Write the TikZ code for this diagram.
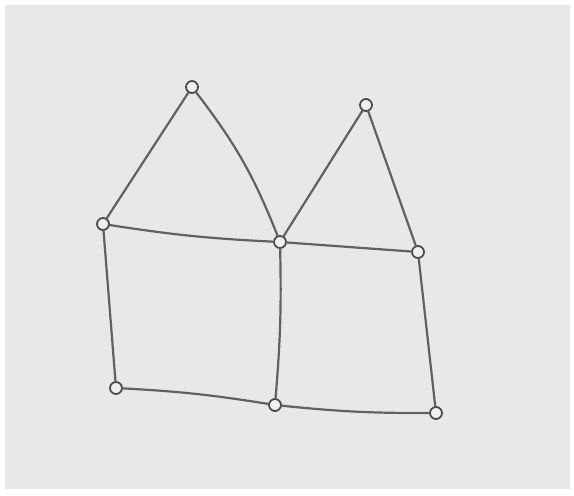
\documentclass[tikz,border=0pt]{standalone}
\begin{document}
\begin{tikzpicture}[x=1pt,y=-1pt,
  vert/.style={circle,draw=black!70,fill=black!6,line width=1.8pt,minimum size=12pt,inner sep=0pt},
  edge/.style={draw=black!62,line width=2.2pt,line cap=round}]
\useasboundingbox (0,0) rectangle (574,496);
\fill[white] (0,0) rectangle (574,496);
\fill[black!9] (5,5) rectangle (570,489);
\node[vert] (A) at (192,87) {};
\node[vert] (B) at (366,105) {};
\node[vert] (C) at (103,224) {};
\node[vert] (D) at (280,242) {};
\node[vert] (E) at (418,252) {};
\node[vert] (F) at (116,388) {};
\node[vert] (G) at (275,405) {};
\node[vert] (H) at (436,413) {};
\draw[edge] (A) -- (C);
\draw[edge] (A) to[bend left=8] (D);
\draw[edge] (C) to[bend right=3] (D);
\draw[edge] (B) -- (D);
\draw[edge] (B) -- (E);
\draw[edge] (D) -- (E);
\draw[edge] (C) -- (F);
\draw[edge] (D) to[bend left=3] (G);
\draw[edge] (E) -- (H);
\draw[edge] (F) to[bend left=3] (G);
\draw[edge] (G) to[bend right=3] (H);
\end{tikzpicture}
\end{document}
